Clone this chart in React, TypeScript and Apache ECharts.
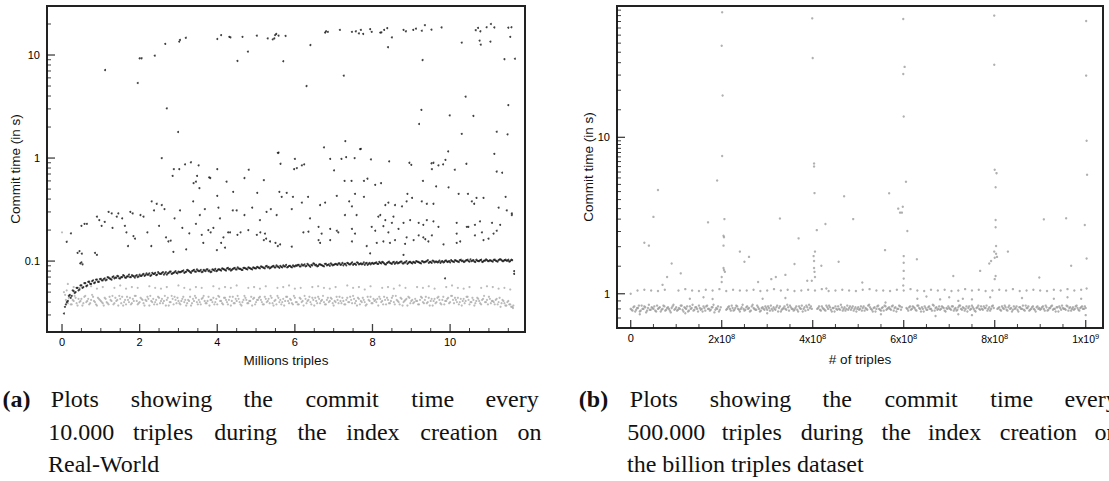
import React, { useEffect, useRef } from "react";
import * as echarts from "echarts";

// ================= Panel (a): Real-World, x in millions of triples =================
const A_X_RANGE = [-0.387, 11.93];
const A_Y_RANGE = [0.0205, 29.9];
const A_X_MAJOR = [0, 2, 4, 6, 8, 10];
const A_X_MINOR = [0.5, 1, 1.5, 2.5, 3, 3.5, 4.5, 5, 5.5, 6.5, 7, 7.5, 8.5, 9, 9.5, 10.5, 11, 11.5];
const A_Y_MAJOR = [0.1, 1, 10];
const A_Y_MINOR = [0.03, 0.04, 0.05, 0.06, 0.07, 0.08, 0.09, 0.2, 0.3, 0.4, 0.5, 0.6, 0.7, 0.8, 0.9, 2, 3, 4, 5, 6, 7, 8, 9, 20];

// black band, first pass (every 0.05 M triples starting at 0.05)
const A_BLACK_BAND_START = 0.05;
const A_BLACK_BAND_STEP = 0.05;
const aBlackBand = [
  0.031, 0.038, 0.041, 0.047, 0.046, 0.051, 0.05, 0.055, 0.053, 0.058, 0.056, 0.061, 0.058, 0.063, 0.06, 0.065, 0.062, 0.066, 0.063, 0.067,
  0.065, 0.068, 0.066, 0.069, 0.067, 0.07, 0.068, 0.069, 0.071, 0.068, 0.07, 0.072, 0.069, 0.071, 0.07, 0.073, 0.071, 0.072, 0.07, 0.074,
  0.072, 0.075, 0.073, 0.074, 0.076, 0.073, 0.075, 0.077, 0.074, 0.076, 0.075, 0.078, 0.076, 0.074, 0.077, 0.079, 0.076, 0.078, 0.077, 0.079,
  0.078, 0.08, 0.077, 0.079, 0.081, 0.078, 0.08, 0.082, 0.079, 0.081, 0.08, 0.078, 0.082, 0.08, 0.083, 0.081, 0.079, 0.082, 0.084, 0.081,
  0.083, 0.081, 0.084, 0.082, 0.085, 0.083, 0.081, 0.084, 0.086, 0.083, 0.085, 0.084, 0.082, 0.086, 0.084, 0.087, 0.085, 0.083, 0.086, 0.085,
  0.087, 0.085, 0.088, 0.086, 0.089, 0.087, 0.085, 0.088, 0.09, 0.087, 0.089, 0.086, 0.088, 0.091, 0.089, 0.087, 0.09, 0.088, 0.091, 0.089,
  0.09, 0.092, 0.089, 0.091, 0.093, 0.09, 0.092, 0.088, 0.091, 0.094, 0.092, 0.09, 0.093, 0.091, 0.089, 0.094, 0.092, 0.09, 0.093, 0.092,
  0.094, 0.092, 0.095, 0.093, 0.091, 0.094, 0.096, 0.093, 0.095, 0.092, 0.094, 0.097, 0.093, 0.095, 0.094, 0.092, 0.096, 0.094, 0.093, 0.096,
  0.095, 0.097, 0.094, 0.096, 0.098, 0.095, 0.093, 0.097, 0.096, 0.094, 0.098, 0.096, 0.095, 0.097, 0.099, 0.095, 0.097, 0.094, 0.098, 0.096,
  0.098, 0.096, 0.099, 0.097, 0.095, 0.099, 0.098, 0.1, 0.096, 0.098, 0.101, 0.097, 0.099, 0.098, 0.096, 0.1, 0.098, 0.101, 0.099, 0.097,
  0.1, 0.098, 0.101, 0.099, 0.102, 0.1, 0.098, 0.101, 0.103, 0.099, 0.1, 0.102, 0.098, 0.101, 0.1, 0.103, 0.099, 0.101, 0.102, 0.1,
  0.101, 0.099, 0.103, 0.1, 0.102, 0.104, 0.1, 0.102, 0.101, 0.103, 0.1, 0.102,
];
// black band, second pass (every 0.05 M triples starting at 0.075)
const A_BLACK_BAND2_START = 0.075;
const aBlackBand2 = [
  0.036, 0.04, 0.046, 0.044, 0.052, 0.049, 0.055, 0.052, 0.058, 0.055, 0.061, 0.057, 0.063, 0.06, 0.064, 0.061, 0.066, 0.063, 0.067, 0.065,
  0.067, 0.065, 0.07, 0.068, 0.066, 0.071, 0.069, 0.072, 0.068, 0.07, 0.073, 0.069, 0.071, 0.074, 0.07, 0.072, 0.069, 0.073, 0.071, 0.072,
  0.074, 0.072, 0.076, 0.074, 0.072, 0.077, 0.075, 0.073, 0.078, 0.075, 0.077, 0.074, 0.078, 0.076, 0.079, 0.075, 0.077, 0.08, 0.076, 0.078,
  0.079, 0.081, 0.078, 0.082, 0.08, 0.077, 0.081, 0.079, 0.083, 0.08, 0.082, 0.079, 0.081, 0.083, 0.08, 0.078, 0.083, 0.081, 0.08, 0.083,
  0.082, 0.085, 0.083, 0.081, 0.086, 0.084, 0.082, 0.085, 0.083, 0.087, 0.084, 0.082, 0.086, 0.085, 0.083, 0.086, 0.084, 0.087, 0.085, 0.088,
  0.086, 0.089, 0.087, 0.085, 0.09, 0.088, 0.086, 0.089, 0.087, 0.091, 0.088, 0.09, 0.087, 0.089, 0.092, 0.088, 0.09, 0.087, 0.089, 0.091,
  0.092, 0.089, 0.093, 0.091, 0.089, 0.094, 0.09, 0.092, 0.095, 0.091, 0.089, 0.093, 0.092, 0.09, 0.094, 0.091, 0.093, 0.095, 0.091, 0.093,
  0.093, 0.095, 0.092, 0.096, 0.094, 0.091, 0.095, 0.093, 0.097, 0.094, 0.092, 0.096, 0.094, 0.093, 0.097, 0.095, 0.092, 0.096, 0.095, 0.094,
  0.096, 0.094, 0.098, 0.095, 0.097, 0.093, 0.096, 0.099, 0.095, 0.097, 0.094, 0.098, 0.096, 0.099, 0.095, 0.097, 0.1, 0.096, 0.098, 0.095,
  0.097, 0.1, 0.098, 0.096, 0.1, 0.097, 0.099, 0.102, 0.098, 0.096, 0.1, 0.099, 0.097, 0.101, 0.099, 0.097, 0.101, 0.098, 0.1, 0.102,
  0.099, 0.102, 0.1, 0.098, 0.103, 0.101, 0.099, 0.102, 0.1, 0.104, 0.101, 0.099, 0.103, 0.1, 0.102, 0.098, 0.101, 0.104, 0.1, 0.102,
  0.1, 0.103, 0.101, 0.099, 0.104, 0.102, 0.1, 0.103, 0.101, 0.099, 0.103,
];

// grey band, first pass (every 0.05 M triples starting at 0.1)
const A_GREY_BAND_START = 0.1;
const A_GREY_BAND_STEP = 0.05;
const aGreyBand = [
  0.042, 0.039, 0.045, 0.038, 0.041, 0.044, 0.037, 0.04, 0.043, 0.039, 0.046, 0.041, 0.038, 0.042, 0.045, 0.04, 0.037, 0.043, 0.041, 0.039,
  0.044, 0.04, 0.038, 0.042, 0.046, 0.039, 0.041, 0.037, 0.043, 0.045, 0.04, 0.038, 0.042, 0.044, 0.039, 0.041, 0.046, 0.038, 0.04, 0.043,
  0.039, 0.042, 0.045, 0.037, 0.041, 0.043, 0.04, 0.038, 0.044, 0.041, 0.039, 0.046, 0.042, 0.037, 0.04, 0.043, 0.045, 0.039, 0.041, 0.038,
  0.043, 0.04, 0.037, 0.042, 0.045, 0.039, 0.041, 0.044, 0.038, 0.04, 0.043, 0.046, 0.039, 0.041, 0.037, 0.042, 0.044, 0.04, 0.038, 0.045,
  0.041, 0.038, 0.044, 0.04, 0.042, 0.037, 0.045, 0.039, 0.041, 0.043, 0.038, 0.04, 0.046, 0.042, 0.039, 0.041, 0.037, 0.044, 0.04, 0.042,
  0.045, 0.04, 0.038, 0.043, 0.041, 0.039, 0.044, 0.037, 0.042, 0.046, 0.04, 0.038, 0.043, 0.041, 0.045, 0.039, 0.042, 0.038, 0.044, 0.04,
  0.038, 0.043, 0.041, 0.046, 0.039, 0.042, 0.04, 0.044, 0.037, 0.041, 0.045, 0.039, 0.042, 0.04, 0.038, 0.044, 0.041, 0.043, 0.037, 0.04,
  0.042, 0.045, 0.039, 0.041, 0.038, 0.044, 0.04, 0.042, 0.046, 0.039, 0.037, 0.043, 0.041, 0.044, 0.04, 0.038, 0.042, 0.045, 0.039, 0.041,
  0.04, 0.037, 0.043, 0.041, 0.045, 0.038, 0.042, 0.039, 0.044, 0.04, 0.046, 0.041, 0.038, 0.043, 0.04, 0.042, 0.037, 0.044, 0.041, 0.039,
  0.043, 0.041, 0.038, 0.045, 0.04, 0.042, 0.039, 0.044, 0.041, 0.037, 0.043, 0.04, 0.045, 0.039, 0.042, 0.038, 0.041, 0.044, 0.04, 0.046,
  0.039, 0.042, 0.044, 0.04, 0.037, 0.043, 0.041, 0.045, 0.038, 0.04, 0.042, 0.039, 0.044, 0.041, 0.038, 0.043, 0.04, 0.042, 0.045, 0.039,
  0.041, 0.038, 0.043, 0.04, 0.036, 0.042, 0.039, 0.037, 0.041, 0.038, 0.036,
];
// grey band, second pass (every 0.05 M triples starting at 0.125)
const A_GREY_BAND2_START = 0.125;
const aGreyBand2 = [
  0.04, 0.044, 0.038, 0.042, 0.046, 0.039, 0.043, 0.041, 0.037, 0.045, 0.04, 0.043, 0.039, 0.047, 0.041, 0.038, 0.044, 0.042, 0.04, 0.037,
  0.043, 0.039, 0.045, 0.041, 0.038, 0.044, 0.042, 0.046, 0.039, 0.037, 0.042, 0.045, 0.04, 0.038, 0.043, 0.046, 0.041, 0.039, 0.044, 0.042,
  0.037, 0.041, 0.043, 0.046, 0.04, 0.038, 0.042, 0.045, 0.039, 0.043, 0.041, 0.037, 0.044, 0.04, 0.046, 0.038, 0.042, 0.044, 0.039, 0.041,
  0.045, 0.042, 0.039, 0.041, 0.037, 0.043, 0.046, 0.04, 0.042, 0.038, 0.044, 0.041, 0.039, 0.045, 0.042, 0.04, 0.038, 0.043, 0.046, 0.041,
  0.039, 0.044, 0.042, 0.038, 0.045, 0.041, 0.039, 0.043, 0.046, 0.04, 0.037, 0.042, 0.044, 0.039, 0.041, 0.045, 0.043, 0.038, 0.042, 0.044,
  0.042, 0.038, 0.045, 0.04, 0.043, 0.046, 0.039, 0.041, 0.038, 0.044, 0.042, 0.04, 0.037, 0.045, 0.041, 0.043, 0.039, 0.046, 0.04, 0.038,
  0.044, 0.04, 0.037, 0.043, 0.041, 0.045, 0.038, 0.042, 0.044, 0.039, 0.043, 0.041, 0.046, 0.038, 0.042, 0.04, 0.044, 0.039, 0.041, 0.045,
  0.039, 0.041, 0.044, 0.038, 0.042, 0.04, 0.045, 0.039, 0.043, 0.041, 0.044, 0.038, 0.04, 0.042, 0.037, 0.045, 0.041, 0.039, 0.043, 0.042,
  0.043, 0.045, 0.04, 0.038, 0.042, 0.044, 0.039, 0.041, 0.046, 0.038, 0.042, 0.04, 0.044, 0.037, 0.041, 0.043, 0.045, 0.039, 0.042, 0.04,
  0.041, 0.038, 0.042, 0.044, 0.039, 0.045, 0.04, 0.037, 0.043, 0.041, 0.039, 0.044, 0.042, 0.038, 0.045, 0.041, 0.043, 0.039, 0.046, 0.042,
  0.044, 0.04, 0.038, 0.043, 0.041, 0.039, 0.045, 0.042, 0.04, 0.044, 0.037, 0.041, 0.043, 0.039, 0.042, 0.046, 0.04, 0.038, 0.043, 0.041,
  0.04, 0.042, 0.038, 0.044, 0.039, 0.041, 0.037, 0.04, 0.038, 0.036,
];

// sparse grey row above the grey band (every 0.15 M triples starting at 0.3)
const A_GREY_ROW_START = 0.3;
const A_GREY_ROW_STEP = 0.15;
const aGreyRow = [
  0.056, 0.055, null, 0.057, 0.054, 0.056, null, 0.055, 0.058, 0.054, 0.056, 0.055, null, 0.057, 0.055, 0.054, 0.056, null, 0.058, 0.055,
  0.053, 0.056, 0.055, null, 0.057, 0.054, 0.056, 0.055, 0.058, null, 0.055, 0.056, 0.054, 0.057, null, 0.055, 0.056, 0.058, 0.054, 0.055,
  null, 0.056, 0.057, 0.055, 0.054, 0.056, null, 0.058, 0.055, 0.056, 0.053, 0.057, null, 0.055, 0.056, 0.054, 0.058, 0.055, null, 0.056,
  0.055, 0.057, 0.054, null, 0.056, 0.058, 0.055, 0.054, 0.056, null, 0.055, 0.057, 0.056, 0.054, 0.055, 0.053,
];
const aGreyExtra = [[0.0, 0.19], [0.05, 0.05], [0.08, 0.047], [0.12, 0.052], [0.15, 0.06], [11.62, 0.035], [11.63, 0.037]];

// black scattered commits [millions of triples, seconds]
const aBlackOutliers = [
  [1.11, 7.15], [1.95, 5.35], [2.0, 9.3], [2.05, 9.3], [2.39, 9.85], [2.66, 12.8], [3.02, 13.5], [3.04, 14.0], [3.19, 14.7], [2.7, 3.04], [2.99, 1.79], [2.57, 1.0],
  [4.0, 14.3], [4.1, 15.6], [4.31, 15.0], [4.34, 14.8], [4.65, 15.0], [5.02, 15.4], [5.3, 14.5], [5.43, 14.2], [5.52, 16.0], [5.58, 15.4], [4.52, 8.75], [4.79, 10.8], [5.58, 1.13],
  [5.49, 15.6], [5.47, 14.5], [5.76, 15.3], [6.78, 16.5], [6.8, 17.0], [6.85, 16.8], [7.16, 17.5], [7.47, 16.8], [7.57, 17.0], [7.65, 16.2], [7.7, 17.5], [7.76, 16.0], [7.94, 17.8], [7.98, 16.8],
  [8.2, 16.5], [8.23, 16.6], [8.3, 17.5], [8.38, 18.2], [8.5, 14.8], [8.4, 11.9], [8.8, 17.5], [8.86, 17.0], [9.05, 17.5], [9.12, 18.0], [9.27, 17.2], [9.35, 19.5], [9.52, 17.6], [9.78, 18.5],
  [10.66, 17.4], [10.72, 18.3], [10.78, 17.0], [10.94, 18.6], [11.05, 20.0], [11.14, 18.5], [11.5, 18.4], [11.58, 18.6], [11.55, 15.0],
  [10.3, 13.2], [10.76, 13.8], [10.79, 12.6], [11.04, 13.5], [6.4, 12.5], [5.7, 8.7], [9.29, 8.94], [11.4, 9.1], [11.67, 9.2],
  [7.26, 6.3], [6.3, 5.0], [10.4, 3.94], [11.5, 3.27], [9.26, 2.93], [9.99, 2.59], [9.2, 2.14], [10.6, 2.56], [10.3, 1.72], [11.2, 1.8], [11.48, 1.7],
  [7.3, 1.46], [6.75, 1.27], [7.7, 1.23], [9.95, 1.16], [5.56, 1.12],
  [2.85, 0.67], [2.88, 0.78], [3.02, 0.78], [3.17, 0.87], [3.32, 0.91], [3.52, 0.85], [3.48, 0.67], [3.45, 0.59], [3.39, 0.57], [3.54, 0.51], [3.79, 0.65], [3.82, 0.64],
  [4.0, 0.78], [4.24, 0.59], [4.41, 0.47], [4.7, 0.64], [4.81, 0.77], [5.03, 0.46], [5.2, 0.61], [4.0, 0.43],
  [5.63, 0.88], [6.0, 0.98], [5.98, 0.78], [6.05, 0.8], [6.18, 0.85], [6.24, 0.87], [6.91, 0.98], [7.01, 0.76], [7.2, 0.98], [7.32, 1.02], [7.54, 1.0], [7.68, 1.22],
  [7.96, 0.97], [8.43, 0.93], [8.95, 0.9], [9.0, 0.86], [9.52, 0.89], [9.57, 0.9], [9.7, 0.85], [9.82, 0.87], [9.88, 0.96], [9.53, 0.78], [10.12, 0.77], [10.42, 0.88],
  [11.14, 1.1], [11.2, 0.74], [11.34, 0.72],
  [7.28, 0.6], [7.46, 0.6], [7.78, 0.6], [7.87, 0.63], [8.07, 0.55], [8.22, 0.57], [9.3, 0.6], [9.64, 0.53], [9.96, 0.52],
  [5.6, 0.47], [5.79, 0.46], [5.66, 0.42], [5.95, 0.42], [6.34, 0.42], [7.08, 0.43], [7.55, 0.45], [7.78, 0.42], [8.9, 0.45], [9.02, 0.41],
  [10.22, 0.45], [10.46, 0.45], [10.68, 0.41], [10.86, 0.41], [11.43, 0.42],
  [0.12, 0.154], [0.23, 0.186], [0.4, 0.12], [0.45, 0.125], [0.51, 0.118], [0.47, 0.095], [0.5, 0.097], [0.53, 0.093], [0.5, 0.22], [0.58, 0.23], [0.64, 0.23],
  [0.9, 0.27], [0.96, 0.25], [1.02, 0.22], [0.85, 0.12], [0.9, 0.115], [1.2, 0.3], [1.28, 0.29], [1.41, 0.27], [1.45, 0.29], [1.62, 0.22], [1.66, 0.19],
  [1.76, 0.3], [1.82, 0.29], [1.84, 0.175], [1.88, 0.165], [2.02, 0.28], [2.1, 0.27], [2.31, 0.38], [2.37, 0.31], [2.44, 0.36], [2.57, 0.35], [2.64, 0.32],
  [2.68, 0.17], [2.74, 0.155], [2.8, 0.158], [2.87, 0.123], [3.04, 0.31], [3.28, 0.186], [3.38, 0.38], [3.6, 0.18], [3.64, 0.15], [3.68, 0.32], [3.77, 0.2],
  [3.83, 0.19], [3.9, 0.21], [3.99, 0.128], [4.03, 0.33], [4.07, 0.26], [4.1, 0.15], [4.16, 0.17], [4.2, 0.135], [4.28, 0.19], [4.33, 0.19], [4.4, 0.31],
  [4.5, 0.31], [4.52, 0.18], [4.6, 0.19], [4.8, 0.2], [5.02, 0.18], [5.11, 0.19], [5.23, 0.185], [5.2, 0.16], [5.26, 0.165], [5.27, 0.3], [5.38, 0.32],
  [5.5, 0.15], [5.56, 0.14], [1.1, 0.24], [1.3, 0.21], [1.55, 0.26], [2.2, 0.19], [2.5, 0.22], [2.9, 0.26], [3.1, 0.21], [3.45, 0.23], [3.55, 0.28],
  [1.7, 0.14], [2.3, 0.14], [3.2, 0.13], [4.7, 0.28], [4.9, 0.33], [5.1, 0.25],
  [6.18, 0.37], [6.65, 0.35], [6.78, 0.37], [7.4, 0.38], [7.47, 0.34], [8.33, 0.35], [8.41, 0.37], [8.58, 0.35], [8.76, 0.34], [8.88, 0.38], [9.27, 0.38],
  [9.4, 0.36], [9.57, 0.36], [10.56, 0.38], [10.62, 0.36], [11.25, 0.33], [11.46, 0.31], [11.59, 0.29],
  [5.53, 0.28], [5.92, 0.32], [6.39, 0.26], [7.29, 0.28], [7.59, 0.28], [8.15, 0.27], [8.2, 0.28], [8.33, 0.25], [8.54, 0.27], [8.8, 0.235], [8.97, 0.25],
  [9.19, 0.235], [9.31, 0.225], [9.4, 0.25], [9.57, 0.243], [10.17, 0.235], [10.43, 0.215], [10.64, 0.225], [10.77, 0.243], [11.08, 0.235], [11.29, 0.225], [11.59, 0.28],
  [6.22, 0.19], [6.35, 0.193], [6.61, 0.215], [6.69, 0.185], [6.91, 0.205], [7.08, 0.197], [7.12, 0.19], [7.47, 0.205], [7.55, 0.185], [7.98, 0.215], [8.07, 0.197],
  [8.28, 0.218], [8.41, 0.19], [8.5, 0.235], [8.67, 0.205], [8.88, 0.17], [9.19, 0.178], [9.31, 0.17], [9.36, 0.163], [9.53, 0.178], [9.7, 0.215], [10.17, 0.185],
  [10.47, 0.215], [10.64, 0.178], [10.82, 0.19], [11.12, 0.185], [11.2, 0.197],
  [5.36, 0.155], [5.62, 0.145], [5.92, 0.138], [6.61, 0.16], [6.65, 0.15], [6.91, 0.16], [7.47, 0.155], [7.85, 0.14], [8.11, 0.15], [8.28, 0.155], [8.45, 0.15],
  [8.58, 0.16], [8.84, 0.147], [9.06, 0.16], [9.44, 0.155], [9.83, 0.145], [10.17, 0.15], [10.26, 0.155], [10.86, 0.16], [10.99, 0.165],
  [7.94, 0.119], [8.8, 0.115], [9.87, 0.068], [11.65, 0.08], [11.65, 0.075],
];

// ================= Panel (b): billion triples, x in units of 10^8 triples =================
const B_X_RANGE = [-0.301, 10.38];
const B_Y_RANGE = [0.604, 69.1];
const B_X_MAJOR = [0, 2, 4, 6, 8, 10];
const B_X_MINOR = [0.5, 1, 1.5, 2.5, 3, 3.5, 4.5, 5, 5.5, 6.5, 7, 7.5, 8.5, 9, 9.5];
const B_Y_MAJOR = [1, 10];
const B_Y_MINOR = [0.7, 0.8, 0.9, 1.5, 2, 2.5, 3, 3.5, 4, 4.5, 5, 5.5, 6, 6.5, 7, 7.5, 8, 8.5, 9, 9.5, 15, 20, 25, 30, 35, 40, 45, 50, 55, 60, 65];

// main band, first pass (every 0.04 x 10^8 triples from 0)
const B_BAND_START = 0;
const B_BAND_STEP = 0.04;
const bBand = [
  0.8, 0.78, 0.83, 0.79, 0.81, 0.77, 0.84, 0.8, 0.82, 0.78, 0.85, 0.79, 0.81, 0.83, 0.77, 0.8, 0.82, 0.79, 0.84, 0.78, 0.81, 0.8, 0.76, 0.83, 0.79,
  0.82, 0.79, 0.8, 0.84, 0.77, 0.81, 0.83, 0.78, 0.8, 0.85, 0.79, 0.82, 0.77, 0.81, 0.8, 0.83, 0.78, 0.84, 0.8, 0.79, 0.82, 0.76, 0.81, 0.83, 0.79,
  null, null, null, 0.8, 0.83, 0.78, 0.81, 0.79, 0.84, 0.8, 0.77, 0.82, 0.8, 0.79, 0.83, 0.81, 0.78, 0.85, 0.8, 0.79, 0.82, 0.77, 0.81, 0.8, 0.83,
  0.79, 0.81, 0.84, 0.78, 0.8, 0.82, 0.77, 0.83, 0.79, 0.81, 0.8, 0.85, 0.78, 0.82, 0.8, 0.79, 0.83, 0.77, 0.81, 0.84, 0.8, 0.78, 0.82, 0.85, 0.83,
  null, null, null, 0.81, 0.79, 0.83, 0.8, 0.78, 0.82, 0.84, 0.79, 0.81, 0.77, 0.8, 0.83, 0.79, 0.82, 0.8, 0.78, 0.84, 0.81, 0.79, 0.83, 0.8, 0.77,
  0.82, 0.8, 0.78, 0.83, 0.81, 0.79, 0.85, 0.8, 0.77, 0.82, 0.8, 0.84, 0.79, 0.81, 0.78, 0.83, 0.8, 0.82, 0.79, 0.84, 0.81, 0.77, 0.8, 0.83, 0.82,
  null, null, 0.8, 0.82, 0.79, 0.83, 0.81, 0.78, 0.84, 0.8, 0.82, 0.77, 0.81, 0.79, 0.83, 0.8, 0.85, 0.78, 0.82, 0.8, 0.79, 0.83, 0.81, 0.77, 0.8,
  0.81, 0.79, 0.83, 0.8, 0.78, 0.82, 0.84, 0.79, 0.81, 0.8, 0.77, 0.83, 0.8, 0.82, 0.78, 0.81, 0.84, 0.79, 0.8, 0.83, 0.81, 0.78, 0.82, 0.8, 0.84,
  null, null, 0.81, 0.79, 0.83, 0.8, 0.82, 0.78, 0.84, 0.81, 0.79, 0.8, 0.83, 0.77, 0.82, 0.8, 0.79, 0.84, 0.81, 0.78, 0.8, 0.83, 0.79, 0.82, 0.8,
  0.79, 0.82, 0.8, 0.84, 0.78, 0.81, 0.83, 0.79, 0.8, 0.82, 0.77, 0.81, 0.84, 0.8, 0.79, 0.83, 0.81, 0.78, 0.82, 0.8, 0.84, 0.79, 0.81, 0.83, 0.8,
  0.81,
];
// main band, second pass (every 0.04 x 10^8 triples from 0.02)
const B_BAND2_START = 0.02;
const bBand2 = [
  0.79, 0.82, 0.77, 0.81, 0.84, 0.78, 0.8, 0.83, 0.76, 0.81, 0.79, 0.82, 0.8, 0.78, 0.84, 0.81, 0.77, 0.8, 0.83, 0.79, 0.82, 0.78, 0.81, 0.85, 0.8,
  0.78, 0.81, 0.84, 0.79, 0.82, 0.8, 0.77, 0.83, 0.81, 0.78, 0.82, 0.8, 0.84, 0.79, 0.77, 0.81, 0.83, 0.8, 0.78, 0.82, 0.85, 0.79, 0.8, 0.77, 0.82,
  null, null, 0.79, 0.82, 0.8, 0.84, 0.78, 0.81, 0.83, 0.79, 0.8, 0.85, 0.78, 0.82, 0.8, 0.77, 0.83, 0.81, 0.79, 0.84, 0.8, 0.78, 0.82, 0.79, 0.81,
  0.83, 0.78, 0.8, 0.82, 0.79, 0.84, 0.81, 0.77, 0.8, 0.83, 0.79, 0.82, 0.84, 0.8, 0.78, 0.81, 0.79, 0.83, 0.8, 0.77, 0.82, 0.84, 0.79, 0.81, 0.8,
  null, null, 0.8, 0.83, 0.78, 0.81, 0.79, 0.84, 0.8, 0.82, 0.77, 0.81, 0.83, 0.79, 0.8, 0.85, 0.78, 0.82, 0.8, 0.79, 0.83, 0.81, 0.78, 0.82, 0.8,
  0.79, 0.83, 0.81, 0.78, 0.8, 0.84, 0.82, 0.79, 0.81, 0.77, 0.83, 0.8, 0.78, 0.82, 0.84, 0.79, 0.81, 0.8, 0.83, 0.78, 0.82, 0.8, 0.84, 0.79, null,
  null, 0.81, 0.78, 0.83, 0.8, 0.82, 0.79, 0.84, 0.81, 0.77, 0.8, 0.83, 0.79, 0.82, 0.8, 0.78, 0.84, 0.81, 0.79, 0.83, 0.8, 0.82, 0.78, 0.81, 0.83,
  0.8, 0.83, 0.78, 0.81, 0.79, 0.84, 0.8, 0.82, 0.78, 0.83, 0.81, 0.79, 0.84, 0.8, 0.77, 0.82, 0.8, 0.83, 0.79, 0.81, 0.84, 0.8, 0.78, 0.83, 0.81,
  null, 0.8, 0.82, 0.78, 0.81, 0.84, 0.79, 0.82, 0.8, 0.77, 0.83, 0.81, 0.79, 0.82, 0.8, 0.84, 0.78, 0.81, 0.83, 0.79, 0.82, 0.8, 0.77, 0.83, 0.81,
  0.8, 0.83, 0.78, 0.82, 0.79, 0.81, 0.84, 0.8, 0.77, 0.82, 0.83, 0.79, 0.81, 0.8, 0.84, 0.78, 0.82, 0.8, 0.79, 0.83, 0.81, 0.78, 0.82, 0.8, 0.83,
];

// secondary row near 1.05 s (every 0.15 x 10^8 triples from 0)
const B_ROW_START = 0;
const B_ROW_STEP = 0.15;
const bRow = [
  1.0, 1.05, 1.06, 1.05, 1.04, 1.06, null, 1.05, 1.07, 1.05, 1.04, 1.06, 1.05, 1.07, 1.04, 1.06, 1.05, 1.05, 1.06, 1.04,
  1.05, 1.07, 1.05, 1.06, 1.04, 1.05, 1.06, 1.05, 1.07, 1.04, 1.05, 1.06, 1.05, 1.04, 1.06, 1.07, 1.05, 1.05, 1.04, 1.06,
  1.05, 1.07, 1.05, 1.04, 1.06, 1.05, 1.06, 1.04, 1.05, 1.07, 1.05, 1.06, 1.04, 1.05, 1.06, 1.05, 1.07, 1.04, 1.05, 1.06,
  1.05, 1.04, 1.06, 1.05, 1.07, 1.05, 1.06,
];

// spikes and stray commits [x 10^8 triples, seconds]
const bOutliers = [
  [2.01, 63], [2.0, 38.5], [2.02, 18.5], [2.01, 7.6], [1.9, 5.3], [0.6, 4.6], [3.99, 57.6], [4.0, 32.1], [4.03, 6.8], [4.03, 6.5], [4.04, 4.4],
  [5.99, 57], [6.02, 28.2], [5.99, 25.4], [6.0, 13.6], [6.05, 5.2], [5.68, 4.39], [4.69, 4.2], [7.99, 60], [7.99, 29.1], [8.0, 6.2], [8.04, 5.9], [8.02, 4.8],
  [10.01, 55.4], [10.01, 24.8], [10.02, 9.5], [10.03, 5.77],
  [0.5, 3.1], [0.3, 2.12], [0.4, 2.03], [1.7, 2.86], [2.06, 3.0], [2.04, 2.35], [2.05, 2.3], [2.04, 2.03], [2.04, 1.46], [2.05, 1.42], [2.07, 1.38], [2.0, 1.28],
  [2.0, 1.19], [0.9, 1.56], [1.1, 1.35], [0.8, 1.28], [0.7, 1.14], [1.8, 0.925], [2.4, 1.86], [2.5, 1.6], [2.6, 1.72], [2.8, 1.19], [3.09, 1.24], [3.19, 1.28],
  [3.4, 1.32], [3.28, 3.03], [3.6, 1.55], [3.69, 2.26], [3.88, 1.21], [3.98, 1.21], [4.02, 1.74], [4.03, 1.62], [4.05, 1.86], [4.03, 1.46], [4.04, 1.38],
  [4.05, 1.28], [4.09, 2.55], [4.19, 1.51], [4.28, 2.79], [4.3, 1.08], [4.57, 1.6],
  [4.89, 3.0], [5.09, 1.18], [5.59, 1.9], [5.6, 0.88], [5.88, 3.5], [5.92, 3.3], [5.98, 3.6], [5.96, 3.3], [6.08, 2.52], [6.0, 1.74], [6.0, 1.58], [6.0, 1.4],
  [6.0, 1.25], [5.99, 1.13], [6.29, 1.66], [7.09, 1.3], [7.68, 1.4], [7.88, 1.56], [7.92, 1.62], [8.02, 2.96], [8.02, 2.66], [8.03, 2.02], [7.99, 1.86],
  [8.03, 1.8], [8.0, 1.7], [8.05, 1.72], [8.02, 1.3], [8.0, 1.24], [8.29, 1.86], [8.98, 1.27], [9.08, 2.99], [9.57, 3.04], [9.68, 1.51], [9.98, 2.75],
  [10.02, 1.68], [10.02, 1.08], [9.9, 0.93], [10.0, 0.73],
  [6.3, 0.93], [6.5, 0.96], [6.8, 0.92], [7.0, 0.95], [7.2, 0.9], [7.3, 0.93], [7.5, 0.92], [7.9, 0.95], [8.6, 0.94], [9.3, 0.93], [9.6, 0.95],
  [6.7, 0.72], [7.5, 0.73], [7.2, 0.74], [5.5, 0.74], [3.4, 0.94], [1.3, 0.93], [1.6, 0.95], [2.9, 0.93], [3.0, 0.75], [0.2, 0.74], [1.2, 0.75],
];

// ================= Captions =================
const CAPTION_A = [
  ["(a)", "Plots", "showing", "the", "commit", "time", "every"],
  ["10.000", "triples", "during", "the", "index", "creation", "on"],
  ["Real-World"],
];
const CAPTION_B = [
  ["(b)", "Plots", "showing", "the", "commit", "time", "every"],
  ["500.000", "triples", "during", "the", "index", "creation", "on"],
  ["the billion triples dataset"],
];

// word centre positions (layout, not data)
const CAP_A_X = [
  [16.5, 74.8, 171.5, 258.2, 342.1, 432.7, 512.1],
  [81.3, 163, 245.6, 312.1, 372.9, 459, 529.4],
  [48],
];
const CAP_B_X = [
  [593.5, 653.8, 750.5, 837.2, 921.1, 1011.7, 1091.1],
  [666.3, 751.8, 832, 896.2, 954.6, 1038.4, 1106.4],
  [627],
];
const CAP_Y = [399, 432, 464];

const seq = (start: number, step: number, ys: (number | null)[]) =>
  ys
    .map((y, i) => (y == null ? null : [+(start + i * step).toFixed(4), y]))
    .filter((d) => d !== null) as number[][];

const SANS = '"Liberation Sans", Arial, Helvetica, sans-serif';
const SERIF = '"Liberation Serif", "Times New Roman", serif';
const INK = "#111111";

function tickSeries(idx: number, data: number[][], size: number[], offset: number[]) {
  return {
    type: "scatter",
    xAxisIndex: idx,
    yAxisIndex: idx,
    data,
    symbol: "rect",
    symbolSize: size,
    symbolOffset: offset,
    itemStyle: { color: INK },
    silent: true,
    clip: false,
    z: 6,
  };
}

function captionElements(words: string[][], xs: number[][]) {
  const out: any[] = [];
  words.forEach((line, li) => {
    line.forEach((w, wi) => {
      const isTag = li === 0 && wi === 0;
      const isLeft = li === 2;
      out.push({
        type: "text",
        x: xs[li][wi],
        y: CAP_Y[li],
        silent: true,
        style: {
          text: w,
          fill: "#111",
          font: `${isTag ? "bold " : ""}24px ${SERIF}`,
          align: isLeft ? "left" : "center",
          verticalAlign: "middle",
          textAlign: isLeft ? "left" : "center",
          textVerticalAlign: "middle",
        },
      });
    });
  });
  return out;
}

function axisTitle(text: string, x: number, y: number, rotate: boolean) {
  return {
    type: "text",
    x,
    y,
    rotation: rotate ? Math.PI / 2 : 0,
    silent: true,
    style: {
      text,
      fill: INK,
      font: `13.5px ${SANS}`,
      align: "center",
      verticalAlign: "middle",
      textAlign: "center",
      textVerticalAlign: "middle",
    },
  };
}

const baseLabel = {
  show: true,
  showMinLabel: false,
  showMaxLabel: false,
  color: "#000",
  fontFamily: SANS,
  fontSize: 11,
};

export default function App() {
  const ref = useRef<HTMLDivElement>(null);

  useEffect(() => {
    if (!ref.current) return;
    const chart = echarts.init(ref.current, null, { renderer: "svg" });

    const hidden = {
      axisLine: { show: false },
      axisTick: { show: false },
      splitLine: { show: false },
      minorTick: { show: false },
    };

    const aXMin = A_X_RANGE[0];
    const aYMin = A_Y_RANGE[0];
    const bXMin = B_X_RANGE[0];
    const bYMin = B_Y_RANGE[0];

    const option: any = {
      animation: false,
      backgroundColor: "#ffffff",
      grid: [
        { left: 47, top: 6, width: 478, height: 326, show: true, borderColor: "#222", borderWidth: 2, backgroundColor: "transparent" },
        { left: 617, top: 6, width: 486, height: 322, show: true, borderColor: "#222", borderWidth: 2, backgroundColor: "transparent" },
      ],
      xAxis: [
        {
          type: "value", gridIndex: 0, min: A_X_RANGE[0], max: A_X_RANGE[1], splitNumber: 6, ...hidden,
          axisLabel: { ...baseLabel, margin: 4 },
        },
        {
          type: "value", gridIndex: 1, min: B_X_RANGE[0], max: B_X_RANGE[1], splitNumber: 5, ...hidden,
          axisLabel: {
            ...baseLabel,
            margin: 4,
            formatter: (v: number) => {
              if (Math.abs(v) < 1e-9) return "0";
              if (v >= 10) return `{m|${Math.round(v / 10)}x10}{s|9}`;
              return `{m|${Math.round(v)}x10}{s|8}`;
            },
            rich: {
              m: { fontFamily: SANS, fontSize: 10.5, color: "#000", lineHeight: 14 },
              s: { fontFamily: SANS, fontSize: 7.5, color: "#000", verticalAlign: "top", lineHeight: 8 },
            },
          },
        },
      ],
      yAxis: [
        {
          type: "log", logBase: 10, gridIndex: 0, min: A_Y_RANGE[0], max: A_Y_RANGE[1], ...hidden,
          axisLabel: { ...baseLabel, margin: 7 },
        },
        {
          type: "log", logBase: 10, gridIndex: 1, min: B_Y_RANGE[0], max: B_Y_RANGE[1], ...hidden,
          axisLabel: { ...baseLabel, margin: 7 },
        },
      ],
      series: [
        // panel (a)
        {
          type: "scatter", xAxisIndex: 0, yAxisIndex: 0, silent: true, symbolSize: 2.2,
          itemStyle: { color: "#aaaaaa" },
          data: seq(A_GREY_BAND_START, A_GREY_BAND_STEP, aGreyBand).concat(
            seq(A_GREY_BAND2_START, A_GREY_BAND_STEP, aGreyBand2),
            seq(A_GREY_ROW_START, A_GREY_ROW_STEP, aGreyRow),
            aGreyExtra
          ),
        },
        {
          type: "scatter", xAxisIndex: 0, yAxisIndex: 0, silent: true, symbolSize: 2,
          itemStyle: { color: "#111" },
          data: seq(A_BLACK_BAND_START, A_BLACK_BAND_STEP, aBlackBand).concat(
            seq(A_BLACK_BAND2_START, A_BLACK_BAND_STEP, aBlackBand2),
            aBlackOutliers
          ),
        },
        // panel (b)
        {
          type: "scatter", xAxisIndex: 1, yAxisIndex: 1, silent: true, symbolSize: 2.4,
          itemStyle: { color: "#9c9c9c" },
          data: seq(B_BAND_START, B_BAND_STEP, bBand).concat(
            seq(B_BAND2_START, B_BAND_STEP, bBand2),
            seq(B_ROW_START, B_ROW_STEP, bRow),
            bOutliers
          ),
        },
        // ticks (a)
        tickSeries(0, A_X_MAJOR.map((v) => [v, aYMin]), [1.3, 8], [0, -4]),
        tickSeries(0, A_X_MINOR.map((v) => [v, aYMin]), [1, 4], [0, -2]),
        tickSeries(0, A_Y_MAJOR.map((v) => [aXMin, v]), [8, 1.3], [4, 0]),
        tickSeries(0, A_Y_MINOR.map((v) => [aXMin, v]), [4, 1], [2, 0]),
        // ticks (b)
        tickSeries(1, B_X_MAJOR.map((v) => [v, bYMin]), [1.3, 8], [0, -4]),
        tickSeries(1, B_X_MINOR.map((v) => [v, bYMin]), [1, 4], [0, -2]),
        tickSeries(1, B_Y_MAJOR.map((v) => [bXMin, v]), [8, 1.3], [4, 0]),
        tickSeries(1, B_Y_MINOR.map((v) => [bXMin, v]), [4, 1], [2, 0]),
      ],
      graphic: {
        elements: [
          axisTitle("Commit time (in s)", 15, 169, true),
          axisTitle("Millions triples", 286, 360, false),
          axisTitle("Commit time (in s)", 588, 167, true),
          axisTitle("# of triples", 860, 359, false),
          ...captionElements(CAPTION_A, CAP_A_X),
          ...captionElements(CAPTION_B, CAP_B_X),
        ],
      },
    };

    chart.setOption(option);
    return () => chart.dispose();
  }, []);

  return (
    <div
      ref={ref}
      style={{ position: "fixed", left: 0, top: 0, width: 1109, height: 481, background: "#fff" }}
    />
  );
}
